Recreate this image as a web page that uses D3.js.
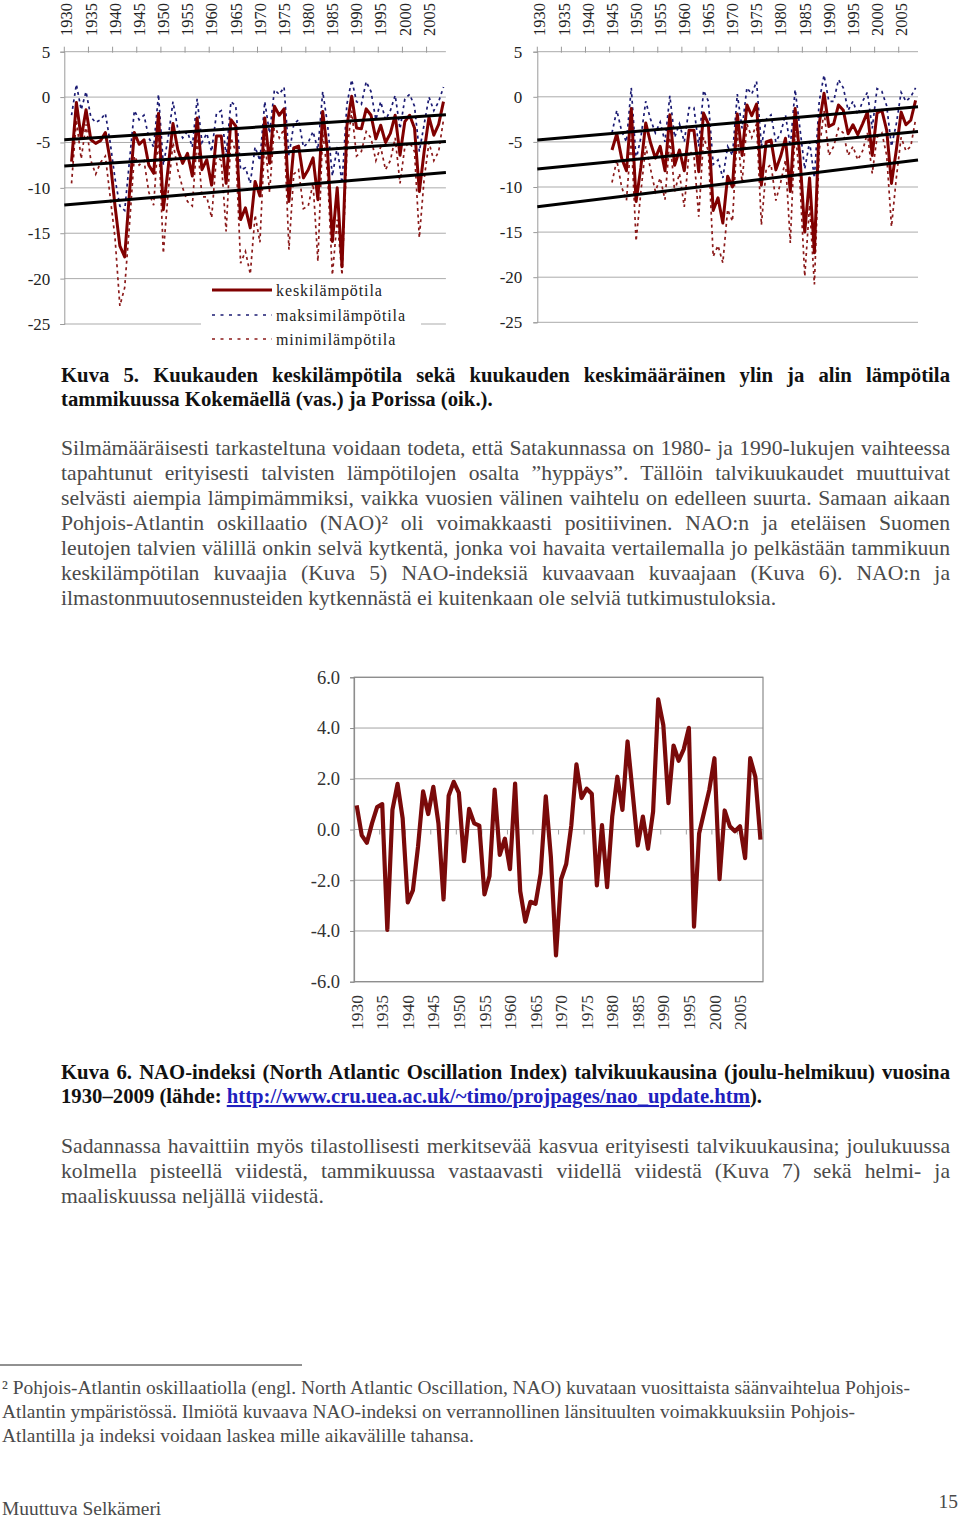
<!DOCTYPE html>
<html><head><meta charset="utf-8">
<script src="https://cdn.jsdelivr.net/npm/d3@7"></script>
<style>
body{margin:0;background:#fff;}
svg{display:block;font-family:"Liberation Serif","Times New Roman",serif;}
</style></head><body>
<svg id="page" width="960" height="1518"></svg>
<script>
// ---------------- DATA ----------------
const years = d3.range(1930, 2009);      // 1930..2008 (Kuva 5)
const naoYears = d3.range(1930, 2010);   // 1930..2009 (Kuva 6)
const tempTicks = [5, 0, -5, -10, -15, -20, -25];
const naoTicks = [6, 4, 2, 0, -2, -4, -6];
const yearLabels = d3.range(1930, 2009, 5);

// Kokemäki, January (1930..2008)
const kokMean = [
 null,-7.1,-0.6,-4.5,-1.4,-4.7,-5.1,-4.8,-3.9,-7.0,
 -12.0,-16.4,-17.6,-10.5,-3.9,-5.2,-4.7,-7.5,-8.4,-1.8,
 -12.4,-7.8,-2.9,-5.8,-7.3,-6.2,-8.7,-2.3,-8.0,-6.9,
 -9.7,-4.3,-4.3,-9.5,-2.5,-3.2,-13.5,-12.2,-14.4,-9.3,
 -10.9,-2.3,-7.3,-1.0,-2.0,-1.3,-11.5,-5.6,-5.4,-8.9,
 -8.0,-6.7,-11.3,-1.6,-6.0,-15.9,-10.0,-18.7,-3.2,0.1,
 -3.4,-3.5,-1.3,-2.0,-4.6,-3.1,-5.0,-4.0,-2.0,-6.4,
 -2.7,-2.0,-3.4,-10.4,-6.0,-2.2,-4.2,-3.0,-0.5];
const kokMax = [
 null,-2.0,1.4,-1.4,0.6,-2.2,-2.8,-2.5,-1.8,-5.0,
 -9.0,-12.0,-12.5,-7.0,-1.5,-2.5,-2.0,-4.5,-5.5,0.3,
 -7.5,-4.5,-0.5,-3.5,-4.5,-3.8,-5.5,-0.2,-5.0,-4.0,
 -6.0,-1.8,-1.5,-6.5,-0.5,-1.0,-8.0,-7.8,-9.5,-5.5,
 -7.0,-0.5,-4.0,0.8,0.3,1.1,-6.5,-3.0,-2.5,-5.5,
 -5.0,-3.8,-5.8,0.6,-3.0,-8.7,-5.5,-9.5,-0.8,1.9,
 -0.5,-0.8,1.7,0.6,-2.5,-0.5,-2.5,-1.5,0.2,-3.5,
 -0.2,0.3,-1.0,-6.0,-3.0,0.0,-1.5,-0.5,1.1];
const kokMin = [
 null,-9.5,-2.5,-6.8,-3.0,-7.0,-8.5,-7.2,-6.5,-11.0,
 -15.5,-23.0,-21.0,-14.0,-6.5,-7.5,-7.0,-10.5,-11.9,-4.0,
 -17.2,-10.5,-5.0,-8.0,-10.0,-11.5,-12.0,-4.5,-11.0,-11.0,
 -13.3,-6.5,-7.0,-14.8,-4.5,-6.0,-18.3,-17.0,-19.5,-13.0,
 -16.0,-4.5,-10.5,-3.0,-4.5,-3.5,-16.8,-8.5,-8.0,-12.3,
 -12.0,-9.5,-18.1,-3.8,-8.5,-19.6,-13.5,-19.6,-6.0,-1.5,
 -6.5,-6.0,-3.8,-4.5,-7.0,-5.5,-8.0,-7.0,-4.5,-9.5,
 -5.5,-5.0,-6.0,-15.5,-9.0,-5.0,-7.0,-6.0,-2.5];
// linear trends: value at the left and right edge of the plot [max, mean, min]
const kokTrendStart = [-4.7, -7.6, -11.9];
const kokTrendEnd   = [-1.95, -4.9, -8.3];

// Pori, January (1930..2008, data from 1945)
const poriMean = [
 null,null,null,null,null,null,null,null,null,null,
 null,null,null,null,null,-5.9,-4.1,-6.8,-8.2,-1.3,
 -11.6,-7.8,-2.9,-5.1,-6.8,-5.5,-8.2,-2.0,-7.6,-5.9,
 -8.2,-3.7,-3.7,-8.3,-1.8,-3.0,-12.6,-11.2,-14.0,-8.8,
 -10.0,-1.9,-6.5,-0.9,-2.1,-0.8,-9.8,-5.0,-4.8,-8.1,
 -6.6,-4.6,-10.5,-1.3,-6.6,-15.0,-9.0,-17.3,-3.0,0.4,
 -3.3,-3.0,-0.9,-1.5,-4.1,-3.1,-4.2,-3.0,-1.7,-6.5,
 -1.8,-1.5,-3.7,-9.6,-5.9,-1.7,-3.1,-2.6,-0.4];
const poriMax = [
 null,null,null,null,null,null,null,null,null,null,
 null,null,null,null,null,-4.0,-1.5,-3.8,-5.0,1.0,
 -7.0,-4.5,-0.5,-2.5,-4.0,-2.8,-5.0,0.1,-4.5,-3.0,
 -5.0,-1.2,-1.2,-5.5,0.7,-0.5,-7.5,-7.0,-9.0,-5.5,
 -6.5,0.3,-3.5,1.0,0.3,1.7,-5.5,-2.5,-2.0,-5.0,
 -4.0,-2.0,-5.5,0.8,-3.5,-8.0,-5.0,-9.0,-0.5,2.4,
 -0.5,-0.5,1.9,1.0,-1.5,-0.5,-2.0,-0.5,0.5,-3.5,
 0.9,0.6,-1.0,-5.5,-3.0,0.5,-0.5,0.0,1.0];
const poriMin = [
 null,null,null,null,null,null,null,null,null,null,
 null,null,null,null,null,-9.5,-7.0,-10.0,-11.5,-4.5,
 -16.0,-10.5,-5.5,-8.0,-10.5,-9.0,-11.4,-4.5,-10.5,-8.5,
 -12.2,-6.0,-6.5,-13.3,-4.5,-6.0,-17.7,-16.5,-18.4,-12.5,
 -13.8,-4.0,-9.5,-3.0,-4.5,-3.0,-14.2,-8.0,-7.5,-11.5,
 -9.5,-7.0,-16.2,-3.5,-9.5,-19.9,-12.0,-20.8,-6.0,-1.5,
 -6.5,-5.5,-3.5,-4.0,-6.5,-5.5,-7.0,-6.0,-4.0,-8.5,
 -4.5,-4.0,-6.5,-14.4,-9.0,-4.5,-6.0,-5.5,-2.5];
const poriTrendStart = [-4.8, -8.0, -12.2];
const poriTrendEnd   = [-1.1, -3.85, -7.0];

// NAO winter index (DJF) 1930..2009
const naoValues = [
 0.95,-0.23,-0.52,0.24,0.88,1.0,-3.96,0.77,1.8,0.44,
 -2.87,-2.4,-0.69,1.5,0.61,1.68,0.24,-2.76,1.33,1.88,
 1.44,-1.25,0.81,0.24,0.15,-2.56,-1.83,1.57,-1.0,-0.36,
 -1.56,1.81,-2.43,-3.63,-2.85,-2.93,-1.73,1.31,-1.09,-4.96,
 -1.96,-1.36,0.17,2.57,1.24,1.61,1.41,-2.2,0.17,-2.27,
 0.51,2.08,0.77,3.47,1.44,-0.63,0.51,-0.76,0.71,5.13,
 4.11,1.04,3.31,2.71,3.17,4.01,-3.83,-0.16,0.71,1.57,
 2.81,-1.96,0.75,0.13,-0.07,0.13,-1.13,2.81,2.08,-0.4];

const legendNames = ["keskilämpötila", "maksimilämpötila", "minimilämpötila"];

// ---------------- TEXTS ----------------
const caption5 = [
 "Kuva 5. Kuukauden keskilämpötila sekä kuukauden keskimääräinen ylin ja alin lämpötila",
 "tammikuussa Kokemäellä (vas.) ja Porissa (oik.)."];
const para1 = [
 "Silmämääräisesti tarkasteltuna voidaan todeta, että Satakunnassa on 1980- ja 1990-lukujen vaihteessa",
 "tapahtunut erityisesti talvisten lämpötilojen osalta ”hyppäys”. Tällöin talvikuukaudet muuttuivat",
 "selvästi aiempia lämpimämmiksi, vaikka vuosien välinen vaihtelu on edelleen suurta. Samaan aikaan",
 "Pohjois-Atlantin oskillaatio (NAO)² oli voimakkaasti positiivinen. NAO:n ja eteläisen Suomen",
 "leutojen talvien välillä onkin selvä kytkentä, jonka voi havaita vertailemalla jo pelkästään tammikuun",
 "keskilämpötilan kuvaajia (Kuva 5) NAO-indeksiä kuvaavaan kuvaajaan (Kuva 6). NAO:n ja",
 "ilmastonmuutosennusteiden kytkennästä ei kuitenkaan ole selviä tutkimustuloksia."];
const caption6a = "Kuva 6. NAO-indeksi (North Atlantic Oscillation Index) talvikuukausina (joulu-helmikuu) vuosina";
const caption6b = ["1930–2009 (lähde: ", "http://www.cru.uea.ac.uk/~timo/projpages/nao_update.htm", ")."];
const para2 = [
 "Sadannassa havaittiin myös tilastollisesti merkitsevää kasvua erityisesti talvikuukausina; joulukuussa",
 "kolmella pisteellä viidestä, tammikuussa vastaavasti viidellä viidestä (Kuva 7) sekä helmi- ja",
 "maaliskuussa neljällä viidestä."];
const footnote = [
 "² Pohjois-Atlantin oskillaatiolla (engl. North Atlantic Oscillation, NAO) kuvataan vuosittaista säänvaihtelua Pohjois-",
 "Atlantin ympäristössä. Ilmiötä kuvaava NAO-indeksi on verrannollinen länsituulten voimakkuuksiin Pohjois-",
 "Atlantilla ja indeksi voidaan laskea mille aikavälille tahansa."];
const footerLeft = "Muuttuva Selkämeri";
const footerRight = "15";

// ---------------- DRAW ----------------
const svg = d3.select("#page");
const DARKRED = "#800000", NAVY = "#1b1b73", MINRED = "#8b1a1a";
const hy = f => d => f(d).replace("\u2212", "-");

function drawTempChart(cfg) {
  const g = svg.append("g");
  const x = d3.scaleBand().domain(years).range([cfg.x0, cfg.x1]);
  const y = d3.scaleLinear().domain([-25, 5]).range([cfg.yBot, cfg.yTop]);
  const cx = d => x(d) + x.bandwidth() / 2;

  g.selectAll(".grid").data(tempTicks).join("line")
    .attr("x1", cfg.x0).attr("x2", cfg.x1)
    .attr("y1", d => y(d)).attr("y2", d => y(d))
    .attr("stroke", "#ababab").attr("stroke-width", 1);
  const ya = g.append("g").attr("transform", `translate(${cfg.x0},0)`)
    .call(d3.axisLeft(y).tickValues(tempTicks).tickSize(4).tickPadding(cfg.pad).tickFormat(hy(d3.format("d"))));
  ya.select(".domain").attr("stroke", "#9a9a9a");
  ya.selectAll(".tick line").attr("stroke", "#9a9a9a");
  ya.selectAll("text").attr("font-size", 17).attr("font-family", "Liberation Serif").attr("fill", "#222");
  const bounds = d3.range(0, years.length + 1, 5);
  g.selectAll(".xt").data(bounds).join("line")
    .attr("x1", i => cfg.x0 + i * x.step()).attr("x2", i => cfg.x0 + i * x.step())
    .attr("y1", y(5) - 5).attr("y2", y(5) + 1)
    .attr("stroke", "#9a9a9a");
  g.selectAll(".xl").data(yearLabels).join("text")
    .attr("transform", d => `translate(${cx(d)},36) rotate(-90)`)
    .attr("dy", "0.35em").attr("text-anchor", "start")
    .attr("font-size", 16.5).attr("fill", "#222").text(d => d);

  const line = d3.line().defined(d => d.v != null).x(d => cx(d.year)).y(d => y(d.v));
  const ser = arr => years.map((yr, i) => ({year: yr, v: arr[i]}));
  g.append("path").datum(ser(cfg.min)).attr("d", line).attr("fill", "none")
    .attr("stroke", MINRED).attr("stroke-width", 1.7).attr("stroke-dasharray", "3,3.5");
  g.append("path").datum(ser(cfg.max)).attr("d", line).attr("fill", "none")
    .attr("stroke", NAVY).attr("stroke-width", 1.7).attr("stroke-dasharray", "3,3.5");
  g.append("path").datum(ser(cfg.mean)).attr("d", line).attr("fill", "none")
    .attr("stroke", DARKRED).attr("stroke-width", 3).attr("stroke-linejoin", "round");
  g.selectAll(".trend").data(cfg.trendStart.map((s, i) => [s, cfg.trendEnd[i]])).join("line")
    .attr("x1", cfg.x0).attr("x2", cfg.x1)
    .attr("y1", d => y(d[0])).attr("y2", d => y(d[1]))
    .attr("stroke", "#000").attr("stroke-width", 3);

  if (cfg.legend) {
    const lg = g.append("g");
    lg.append("rect").attr("x", 201).attr("y", 282).attr("width", 220).attr("height", 70).attr("fill", "#fff");
    const styles = [
      {stroke: DARKRED, w: 3, dash: null},
      {stroke: NAVY, w: 1.7, dash: "3,5.5"},
      {stroke: MINRED, w: 1.7, dash: "3,5.5"}];
    const ly = [290, 315, 339];
    legendNames.forEach((nm, i) => {
      lg.append("line").attr("x1", 212).attr("x2", 272).attr("y1", ly[i]).attr("y2", ly[i])
        .attr("stroke", styles[i].stroke).attr("stroke-width", styles[i].w)
        .attr("stroke-dasharray", styles[i].dash);
      lg.append("text").attr("x", 276).attr("y", ly[i] + 6).attr("font-size", 16)
        .attr("letter-spacing", "0.9px").attr("fill", "#222").text(nm);
    });
  }
}

drawTempChart({x0: 64.3, x1: 445.9, yTop: 51.7, yBot: 324, pad: 10,
  mean: kokMean, max: kokMax, min: kokMin, trendStart: kokTrendStart, trendEnd: kokTrendEnd, legend: true});
drawTempChart({x0: 537.3, x1: 918, yTop: 51.7, yBot: 322.3, pad: 11,
  mean: poriMean, max: poriMax, min: poriMin, trendStart: poriTrendStart, trendEnd: poriTrendEnd, legend: false});

// NAO chart
(function() {
  const g = svg.append("g");
  const x = d3.scaleBand().domain(naoYears).range([354.1, 763]);
  const y = d3.scaleLinear().domain([-6, 6]).range([981.7, 677.3]);
  const cx = d => x(d) + x.bandwidth() / 2;
  g.selectAll(".grid").data(naoTicks).join("line")
    .attr("x1", 354.1).attr("x2", 763).attr("y1", d => y(d)).attr("y2", d => y(d))
    .attr("stroke", "#a3a3a3");
  g.append("rect").attr("x", 354.1).attr("y", y(6)).attr("width", 763 - 354.1).attr("height", y(-6) - y(6))
    .attr("fill", "none").attr("stroke", "#8a8a8a").attr("stroke-width", 1.2);
  const ya = g.append("g").attr("transform", "translate(354.1,0)")
    .call(d3.axisLeft(y).tickValues(naoTicks).tickSize(4).tickPadding(10).tickFormat(hy(d3.format(".1f"))));
  ya.select(".domain").attr("stroke", "#8a8a8a");
  ya.selectAll(".tick line").attr("stroke", "#8a8a8a");
  ya.selectAll("text").attr("font-size", 18.5).attr("font-family", "Liberation Serif").attr("fill", "#333");
  const bounds = d3.range(0, naoYears.length + 1, 5);
  g.selectAll(".xt").data(bounds).join("line")
    .attr("x1", i => 354.1 + i * x.step()).attr("x2", i => 354.1 + i * x.step())
    .attr("y1", y(0)).attr("y2", y(0) + 5).attr("stroke", "#a3a3a3");
  g.selectAll(".xl").data(yearLabels).join("text")
    .attr("transform", d => `translate(${cx(d)},995) rotate(-90)`)
    .attr("dy", "0.35em").attr("text-anchor", "end")
    .attr("font-size", 17.5).attr("fill", "#333").text(d => d);
  const line = d3.line().x(d => cx(d.year)).y(d => y(d.v));
  g.append("path").datum(naoYears.map((yr, i) => ({year: yr, v: naoValues[i]})))
    .attr("d", line).attr("fill", "none").attr("stroke", "#7a0a0a").attr("stroke-width", 4.2)
    .attr("stroke-linejoin", "round");
})();

// ---------------- TEXT BLOCKS ----------------
function natural(str, weight) {
  const t = svg.append("text").attr("font-size", 20).attr("font-weight", weight).text(str);
  const L = t.node().getComputedTextLength();
  t.remove();
  return L;
}
function fitFont(str, weight, target) { return 20 * target / natural(str, weight); }
function textLine(str, x, yb, size, weight, color, justifyWidth) {
  const t = svg.append("text").attr("x", x).attr("y", yb).attr("font-size", size)
    .attr("font-weight", weight).attr("fill", color).text(str);
  if (justifyWidth) {
    const L = t.node().getComputedTextLength();
    const n = (str.match(/ /g) || []).length;
    if (n > 0) t.style("word-spacing", ((justifyWidth - L) / n) + "px");
  }
  return t;
}
const BODY = "#4a4a4a";
const capSize = Math.min(fitFont(caption5[1], "bold", 461),
                         fitFont(caption6a, "bold", 872),
                         fitFont(caption5[0], "bold", 872));
const bodySize = Math.min(fitFont(para1[6], "normal", 728),
  ...para1.slice(0, 6).map(s => fitFont(s, "normal", 880)),
  ...para2.slice(0, 2).map(s => fitFont(s, "normal", 880)));
const noteSize = fitFont(footnote[2], "normal", 472);

caption5.forEach((s, i) => textLine(s, 61, 382 + i * 24, capSize, "bold", "#111", i === 0 ? 889 : null));
para1.forEach((s, i) => textLine(s, 61, 455 + i * 25, bodySize, "normal", BODY, i < 6 ? 889 : null));
textLine(caption6a, 61, 1079, capSize, "bold", "#111", 889);
(function() {
  const t = svg.append("text").attr("x", 61).attr("y", 1103).attr("font-size", capSize)
    .attr("font-weight", "bold").attr("fill", "#111");
  t.append("tspan").text(caption6b[0]);
  t.append("tspan").attr("fill", "#1f1fbf").attr("text-decoration", "underline").text(caption6b[1]);
  t.append("tspan").text(caption6b[2]);
})();
para2.forEach((s, i) => textLine(s, 61, 1153 + i * 25, bodySize, "normal", BODY, i < 2 ? 889 : null));

svg.append("line").attr("x1", 0).attr("x2", 302).attr("y1", 1365).attr("y2", 1365)
  .attr("stroke", "#222").attr("stroke-width", 1);
footnote.forEach((s, i) => textLine(s, 2, 1394 + i * 24, noteSize, "normal", BODY, null));
textLine(footerLeft, 2, 1515, noteSize, "normal", BODY, null);
svg.append("text").attr("x", 958).attr("y", 1508).attr("text-anchor", "end")
  .attr("font-size", noteSize).attr("fill", BODY).text(footerRight);
</script>
</body></html>
